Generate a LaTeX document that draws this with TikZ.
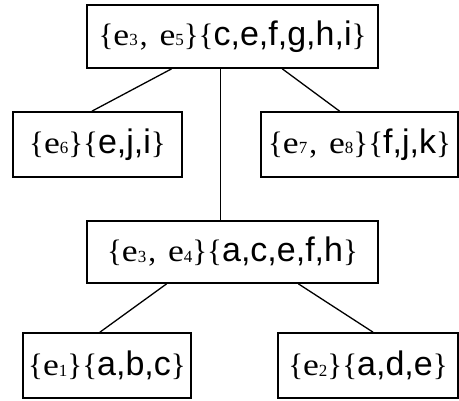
\documentclass[tikz,border=0pt]{standalone}
\usepackage{graphicx}
\usepackage{fontspec}
\setmainfont{Liberation Serif}
\newfontfamily\lsans{Liberation Sans}
\usetikzlibrary{calc}
\newcommand{\ee}[1]{\scalebox{1.15}[1]{e}\raisebox{-0.5pt}{\fontsize{17}{17}\selectfont #1}}
\newcommand{\lt}[1]{{\lsans\fontsize{34}{38}\selectfont #1}}
\newcommand{\cm}{\kern2pt,\kern12pt}
\tikzset{
  box/.style={draw, line width=1.6pt, inner sep=0pt, font=\fontsize{31}{36}\selectfont},
  link/.style={line width=1.3pt}
}
\begin{document}
\begin{tikzpicture}[x=1pt,y=-1pt]
\useasboundingbox (0,0) rectangle (459,400);
\node[box, minimum width=291pt, minimum height=63pt] (top) at (232.5,36.5) {\{\ee{3}\cm\ee{5}\}\{\lt{c,e,f,g,h,i}\}};
\node[box, minimum width=169pt, minimum height=65pt] (ml) at (97.5,144.5) {\{\ee{6}\}\{\lt{e,j,i}\}};
\node[box, minimum width=197pt, minimum height=65pt] (mr) at (359.5,144.5) {\{\ee{7}\cm\ee{8}\}\{\lt{f,j,k}\}};
\node[box, minimum width=291pt, minimum height=62pt] (mid) at (232.5,252) {\{\ee{3}\cm\ee{4}\}\{\lt{a,c,e,f,h}\}};
\node[box, minimum width=168pt, minimum height=65pt] (bl) at (107,365.5) {\{\ee{1}\}\{\lt{a,b,c}\}};
\node[box, minimum width=180pt, minimum height=65pt] (br) at (368,365.5) {\{\ee{2}\}\{\lt{a,d,e}\}};
\draw[link] ($(top.south west)!0.292!(top.south east)$) -- ($(ml.north west)!0.467!(ml.north east)$);
\draw[link] ($(top.south west)!0.46!(top.south east)$) -- ($(mid.north west)!0.46!(mid.north east)$);
\draw[link] ($(top.south west)!0.67!(top.south east)$) -- ($(mr.north west)!0.40!(mr.north east)$);
\draw[link] ($(mid.south west)!0.275!(mid.south east)$) -- ($(bl.north west)!0.458!(bl.north east)$);
\draw[link] ($(mid.south west)!0.725!(mid.south east)$) -- ($(br.north west)!0.528!(br.north east)$);
\end{tikzpicture}
\end{document}
